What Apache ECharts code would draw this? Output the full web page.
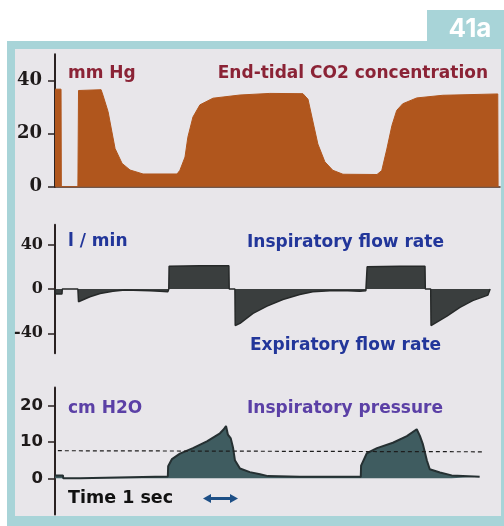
<!DOCTYPE html>
<html>
<head>
<meta charset="utf-8">
<script src="https://cdn.jsdelivr.net/npm/echarts@6/dist/echarts.min.js"></script>
<style>
  html, body { margin: 0; padding: 0; background: #ffffff; }
  #wrap { position: relative; width: 504px; height: 526px; overflow: hidden; }
  #frame { position: absolute; left: 7px; top: 41px; width: 497px; height: 485px; background: #a8d4d8; }
  #inner { position: absolute; left: 15px; top: 49px; width: 486px; height: 467px; background: #e8e6ea; }
  #tab { position: absolute; left: 427px; top: 10px; width: 77px; height: 31px; background: #a8d4d8; }
  #chart { position: absolute; left: 0; top: 0; width: 504px; height: 526px; }
</style>
</head>
<body>
<div id="wrap">
  <div id="frame"></div>
  <div id="inner"></div>
  <div id="tab"></div>
  <div id="chart"></div>
</div>
<script>
// ---- End-tidal CO2 (mm Hg) vs time (s) ----
const co2Time  = [0.00, 0.19, 0.20, 0.72, 0.74, 1.45, 1.51, 1.67, 1.79, 1.89, 2.11, 2.36, 2.77, 3.84, 3.93, 4.09, 4.18, 4.34, 4.56, 4.97, 5.82, 6.76, 7.80, 7.96, 8.11, 8.27, 8.49, 8.74, 9.06, 10.13, 10.28, 10.44, 10.60, 10.75, 10.94, 11.38, 12.20, 13.93, 13.94];
const co2Value = [36.8, 36.8, 0,    0,    36.3, 36.6, 34.5, 28.3, 20.7, 14.4, 8.8,  6.3,  4.8,  4.8,  6.2,  11.2, 18.7, 26.3, 30.9, 33.4, 34.6, 35.2, 35.1, 33.0, 24.8, 16.1, 9.4,  6.2,  4.7,  4.6,   6.1,   14.2,  23.1,  28.8,  31.3,  33.5,  34.5,  35.0,  0];

// ---- Flow rate (l/min) vs time (s) ----
const flowTime  = [0.00, 0.01, 0.22, 0.23, 0.72, 0.74, 1.10, 1.42, 1.82, 2.20, 2.99, 3.30, 3.55, 3.58, 3.59, 4.56, 5.47, 5.48, 5.66, 5.67, 5.82, 6.23, 6.67, 7.17, 7.70, 8.11, 8.65, 9.21, 9.59, 9.78, 9.81, 9.82, 10.85, 11.64, 11.65, 11.82, 11.83, 12.33, 12.74, 13.14, 13.62, 13.68, 13.69];
const flowValue = [0,    -4.5, -4.5, 0,    0,    -11.5, -7,  -4,   -2,   -1,   -1.5, -2,   -2.5, 0,    20.5, 21,   21,   0,    0,    -33,  -31,  -22,  -15.5, -9.5, -5,  -2.5, -1.5, -1.5, -2,   -1.5, 0,    20,   20.5,  20.5,  0,     0,     -33,   -24.5, -16.6, -10.5, -5.5,  -5,    0];

// ---- Inspiratory pressure (cm H2O) vs time (s) ----
const pressTime  = [0.00, 0.25, 0.26, 0.79, 0.80, 3.55, 3.56, 3.68, 3.93, 4.34, 4.78, 5.19, 5.31, 5.38, 5.44, 5.53, 5.60, 5.66, 5.82, 6.13, 6.45, 6.70, 7.70, 9.62, 9.63, 9.81, 10.13, 10.63, 11.07, 11.38, 11.48, 11.57, 11.70, 11.79, 12.11, 12.48, 13.36];
const pressValue = [0.8,  0.8,  0,    0,    0.5,  0.5,  3.3,  5.3,  6.8,  8.3,  10.2, 12.4, 13.5, 14.4, 12.0, 11.0, 8.5,  5.0,  2.7,  1.7,  1.1,  0.6,  0.4,  0.4,  3.5,  6.9,  8.3,   9.8,   11.6,  13.5,  11.7,  9.5,   4.9,   2.5,   1.6,   0.8,   0.4];

// dashed reference level on the pressure trace
const refTime  = [0.09, 13.46];
const refValue = [7.6, 7.3];

// tick labels
const co2Ticks   = [0, 20, 40];
const flowTicks  = [-40, 0, 40];
const pressTicks = [0, 10, 20];

const pair = (xs, ys) => xs.map((x, i) => [x, ys[i]]);

const chart = echarts.init(document.getElementById('chart'), null, { renderer: 'canvas' });

const serifLbl = (size) => ({ fontFamily: '"DejaVu Serif"', fontWeight: 'bold', fontSize: size, color: '#1e1a1a' });
const sansT = 'bold 17px "DejaVu Sans"';

const yCommon = (idx, min, max, ticks, lbl, margin) => ({
  type: 'value', gridIndex: idx, min: min, max: max,
  splitLine: { show: false },
  axisLine: { show: true, lineStyle: { color: '#2a2222', width: 2 } },
  axisTick: { show: true, length: 7, customValues: ticks, lineStyle: { color: '#2a2222', width: 1.5 } },
  axisLabel: Object.assign({ customValues: ticks, margin: margin }, lbl)
});

const xCommon = (idx, showLine) => ({
  type: 'value', gridIndex: idx, min: 0, max: 14,
  axisLine: { show: showLine, onZero: true, lineStyle: { color: '#4a2a1a', width: 1.5 } },
  axisTick: { show: false }, axisLabel: { show: false }, splitLine: { show: false }
});

const option = {
  backgroundColor: 'transparent',
  animation: false,
  grid: [
    { left: 55, width: 445, top: 54.2, height: 132.5 },
    { left: 55, width: 445, top: 224.8, height: 128.4 },
    { left: 55, width: 445, top: 387.55, height: 127.05 }
  ],
  xAxis: [xCommon(0, true), xCommon(1, false), xCommon(2, false)],
  yAxis: [
    yCommon(0, 0, 50, co2Ticks, serifLbl(18), 13),
    yCommon(1, -58, 58, flowTicks, serifLbl(16), 12),
    yCommon(2, -10, 25, pressTicks, { fontFamily: '"DejaVu Sans"', fontWeight: 'bold', fontSize: 16.5, color: '#1e1a1a' }, 12)
  ],
  series: [
    {
      name: 'End-tidal CO2', type: 'line', xAxisIndex: 0, yAxisIndex: 0,
      data: pair(co2Time, co2Value), showSymbol: false,
      lineStyle: { color: '#b0561d', width: 1 },
      areaStyle: { color: '#b0561d', opacity: 1 }
    },
    {
      name: 'Flow', type: 'line', xAxisIndex: 1, yAxisIndex: 1,
      data: pair(flowTime, flowValue), showSymbol: false,
      lineStyle: { color: '#262929', width: 1.5 },
      areaStyle: { color: '#3a3e3e', opacity: 1 }
    },
    {
      name: 'Pressure', type: 'line', xAxisIndex: 2, yAxisIndex: 2,
      data: pair(pressTime, pressValue), showSymbol: false,
      lineStyle: { color: '#253032', width: 2 },
      areaStyle: { color: '#3f5c60', opacity: 1 }
    },
    {
      name: 'Reference', type: 'line', xAxisIndex: 2, yAxisIndex: 2, z: 4,
      data: pair(refTime, refValue), showSymbol: false,
      lineStyle: { color: '#1d1d1d', width: 1.2, type: [4, 3] }
    }
  ],
  graphic: [
    { type: 'text', x: 470, y: 29, style: { text: '41a', font: 'bold 26px Inter', fill: '#ffffff', textAlign: 'center', textVerticalAlign: 'middle' } },
    { type: 'text', x: 68, y: 73.5, style: { text: 'mm Hg', font: sansT, fill: '#8b2336', textVerticalAlign: 'middle' } },
    { type: 'text', x: 488, y: 73.5, style: { text: 'End-tidal CO2 concentration', font: sansT, fill: '#8b2336', textAlign: 'right', textVerticalAlign: 'middle' } },
    { type: 'text', x: 68, y: 242, style: { text: 'l / min', font: sansT, fill: '#22369a', textVerticalAlign: 'middle' } },
    { type: 'text', x: 247, y: 243, style: { text: 'Inspiratory flow rate', font: sansT, fill: '#22369a', textVerticalAlign: 'middle' } },
    { type: 'text', x: 250, y: 346, style: { text: 'Expiratory flow rate', font: sansT, fill: '#22369a', textVerticalAlign: 'middle' } },
    { type: 'text', x: 68, y: 408.5, style: { text: 'cm H2O', font: sansT, fill: '#5b40a6', textVerticalAlign: 'middle' } },
    { type: 'text', x: 247, y: 409, style: { text: 'Inspiratory pressure', font: sansT, fill: '#5b40a6', textVerticalAlign: 'middle' } },
    { type: 'text', x: 68, y: 498, style: { text: 'Time 1 sec', font: 'bold 17.5px "DejaVu Sans"', fill: '#111111', textVerticalAlign: 'middle' } },
    { type: 'line', shape: { x1: 209, y1: 498.5, x2: 232, y2: 498.5 }, style: { stroke: '#1d4f86', lineWidth: 3 } },
    { type: 'polygon', shape: { points: [[203, 498.5], [211, 494], [211, 503]] }, style: { fill: '#1d4f86' } },
    { type: 'polygon', shape: { points: [[238, 498.5], [230, 494], [230, 503]] }, style: { fill: '#1d4f86' } }
  ]
};

chart.setOption(option);
</script>
</body>
</html>
